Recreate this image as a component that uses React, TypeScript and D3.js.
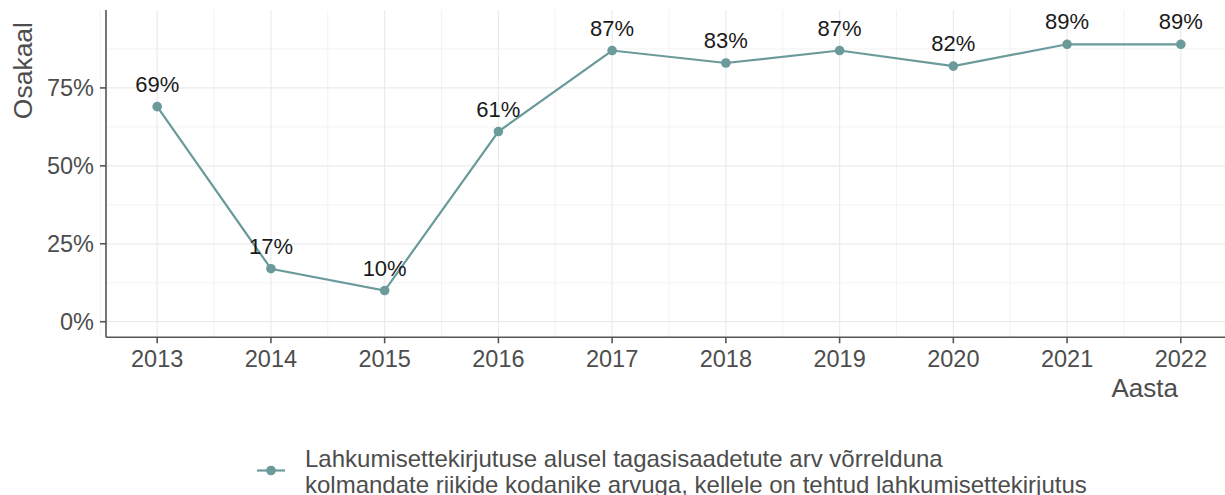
import React from 'react';
import * as d3 from 'd3';

const years = [2013, 2014, 2015, 2016, 2017, 2018, 2019, 2020, 2021, 2022];
const shares = [69, 17, 10, 61, 87, 83, 87, 82, 89, 89];
const yTicks = [0, 25, 50, 75];
const yMinor = [12.5, 37.5, 62.5, 87.5];
const legendLines = [
  'Lahkumisettekirjutuse alusel tagasisaadetute arv võrrelduna',
  'kolmandate riikide kodanike arvuga, kellele on tehtud lahkumisettekirjutus',
];

const W = 1225;
const H = 495;
const LINE = '#6b9a9b';
const FONT = '"Liberation Sans", Arial, sans-serif';

const App = () => {
  const x = d3.scaleLinear().domain([2012.55, 2022.45]).range([106, 1232]);
  const y = d3.scaleLinear().domain([-5, 100]).range([337.3, 10]);

  const data = years.map((yr, i) => ({ yr, v: shares[i] }));
  const line = d3
    .line<{ yr: number; v: number }>()
    .x((d) => x(d.yr))
    .y((d) => y(d.v));

  const left = x.range()[0];
  const bottom = y.range()[0];
  const top = y.range()[1];
  const minorX = years.slice(0, -1).map((yr) => yr + 0.5).concat([2012.5]);

  return (
    <svg
      width={W}
      height={H}
      style={{ position: 'absolute', left: 0, top: 0, background: '#fff' }}
      fontFamily={FONT}
    >
      {/* grid */}
      {yMinor.map((t) => (
        <line key={'ym' + t} x1={left} x2={W} y1={y(t)} y2={y(t)} stroke="#f3f3f3" strokeWidth={1} />
      ))}
      {minorX.map((t) => (
        <line key={'xm' + t} x1={x(t)} x2={x(t)} y1={top} y2={bottom} stroke="#f3f3f3" strokeWidth={1} />
      ))}
      {yTicks.map((t) => (
        <line key={'yg' + t} x1={left} x2={W} y1={y(t)} y2={y(t)} stroke="#ebebeb" strokeWidth={1.2} />
      ))}
      {years.map((t) => (
        <line key={'xg' + t} x1={x(t)} x2={x(t)} y1={top} y2={bottom} stroke="#ebebeb" strokeWidth={1.2} />
      ))}

      {/* axes */}
      <line x1={left} x2={left} y1={top} y2={bottom} stroke="#555" strokeWidth={1.6} />
      <line x1={left} x2={W} y1={bottom} y2={bottom} stroke="#555" strokeWidth={1.6} />
      {yTicks.map((t) => (
        <g key={'yt' + t}>
          <line x1={left - 6} x2={left} y1={y(t)} y2={y(t)} stroke="#555" strokeWidth={1.6} />
          <text x={left - 12} y={y(t)} dy="0.35em" textAnchor="end" fontSize={23.5} fill="#4d4d4d">
            {t}%
          </text>
        </g>
      ))}
      {years.map((t) => (
        <g key={'xt' + t}>
          <line x1={x(t)} x2={x(t)} y1={bottom} y2={bottom + 6} stroke="#555" strokeWidth={1.6} />
          <text x={x(t)} y={bottom + 30} textAnchor="middle" fontSize={23.5} fill="#4d4d4d">
            {t}
          </text>
        </g>
      ))}
      <text x={1178} y={397} textAnchor="end" fontSize={26} fill="#4d4d4d">
        Aasta
      </text>
      <text
        transform={`translate(32, ${top + 12}) rotate(-90)`}
        textAnchor="end"
        fontSize={26.5}
        fill="#4d4d4d"
      >
        Osakaal
      </text>

      {/* series */}
      <path d={line(data) || ''} fill="none" stroke={LINE} strokeWidth={2.2} />
      {data.map((d) => (
        <circle key={'p' + d.yr} cx={x(d.yr)} cy={y(d.v)} r={4.8} fill={LINE} />
      ))}
      {data.map((d) => (
        <text
          key={'l' + d.yr}
          x={x(d.yr)}
          y={y(d.v) - 15}
          textAnchor="middle"
          fontSize={22}
          fill="#1a1a1a"
        >
          {d.v}%
        </text>
      ))}

      {/* legend */}
      <line x1={257} x2={285} y1={470.5} y2={470.5} stroke={LINE} strokeWidth={2.2} />
      <circle cx={271} cy={470.5} r={4.8} fill={LINE} />
      {legendLines.map((s, i) => (
        <text key={'lg' + i} x={305} y={467 + i * 25.5} fontSize={24} fill="#4d4d4d">
          {s}
        </text>
      ))}
    </svg>
  );
};

export default App;
